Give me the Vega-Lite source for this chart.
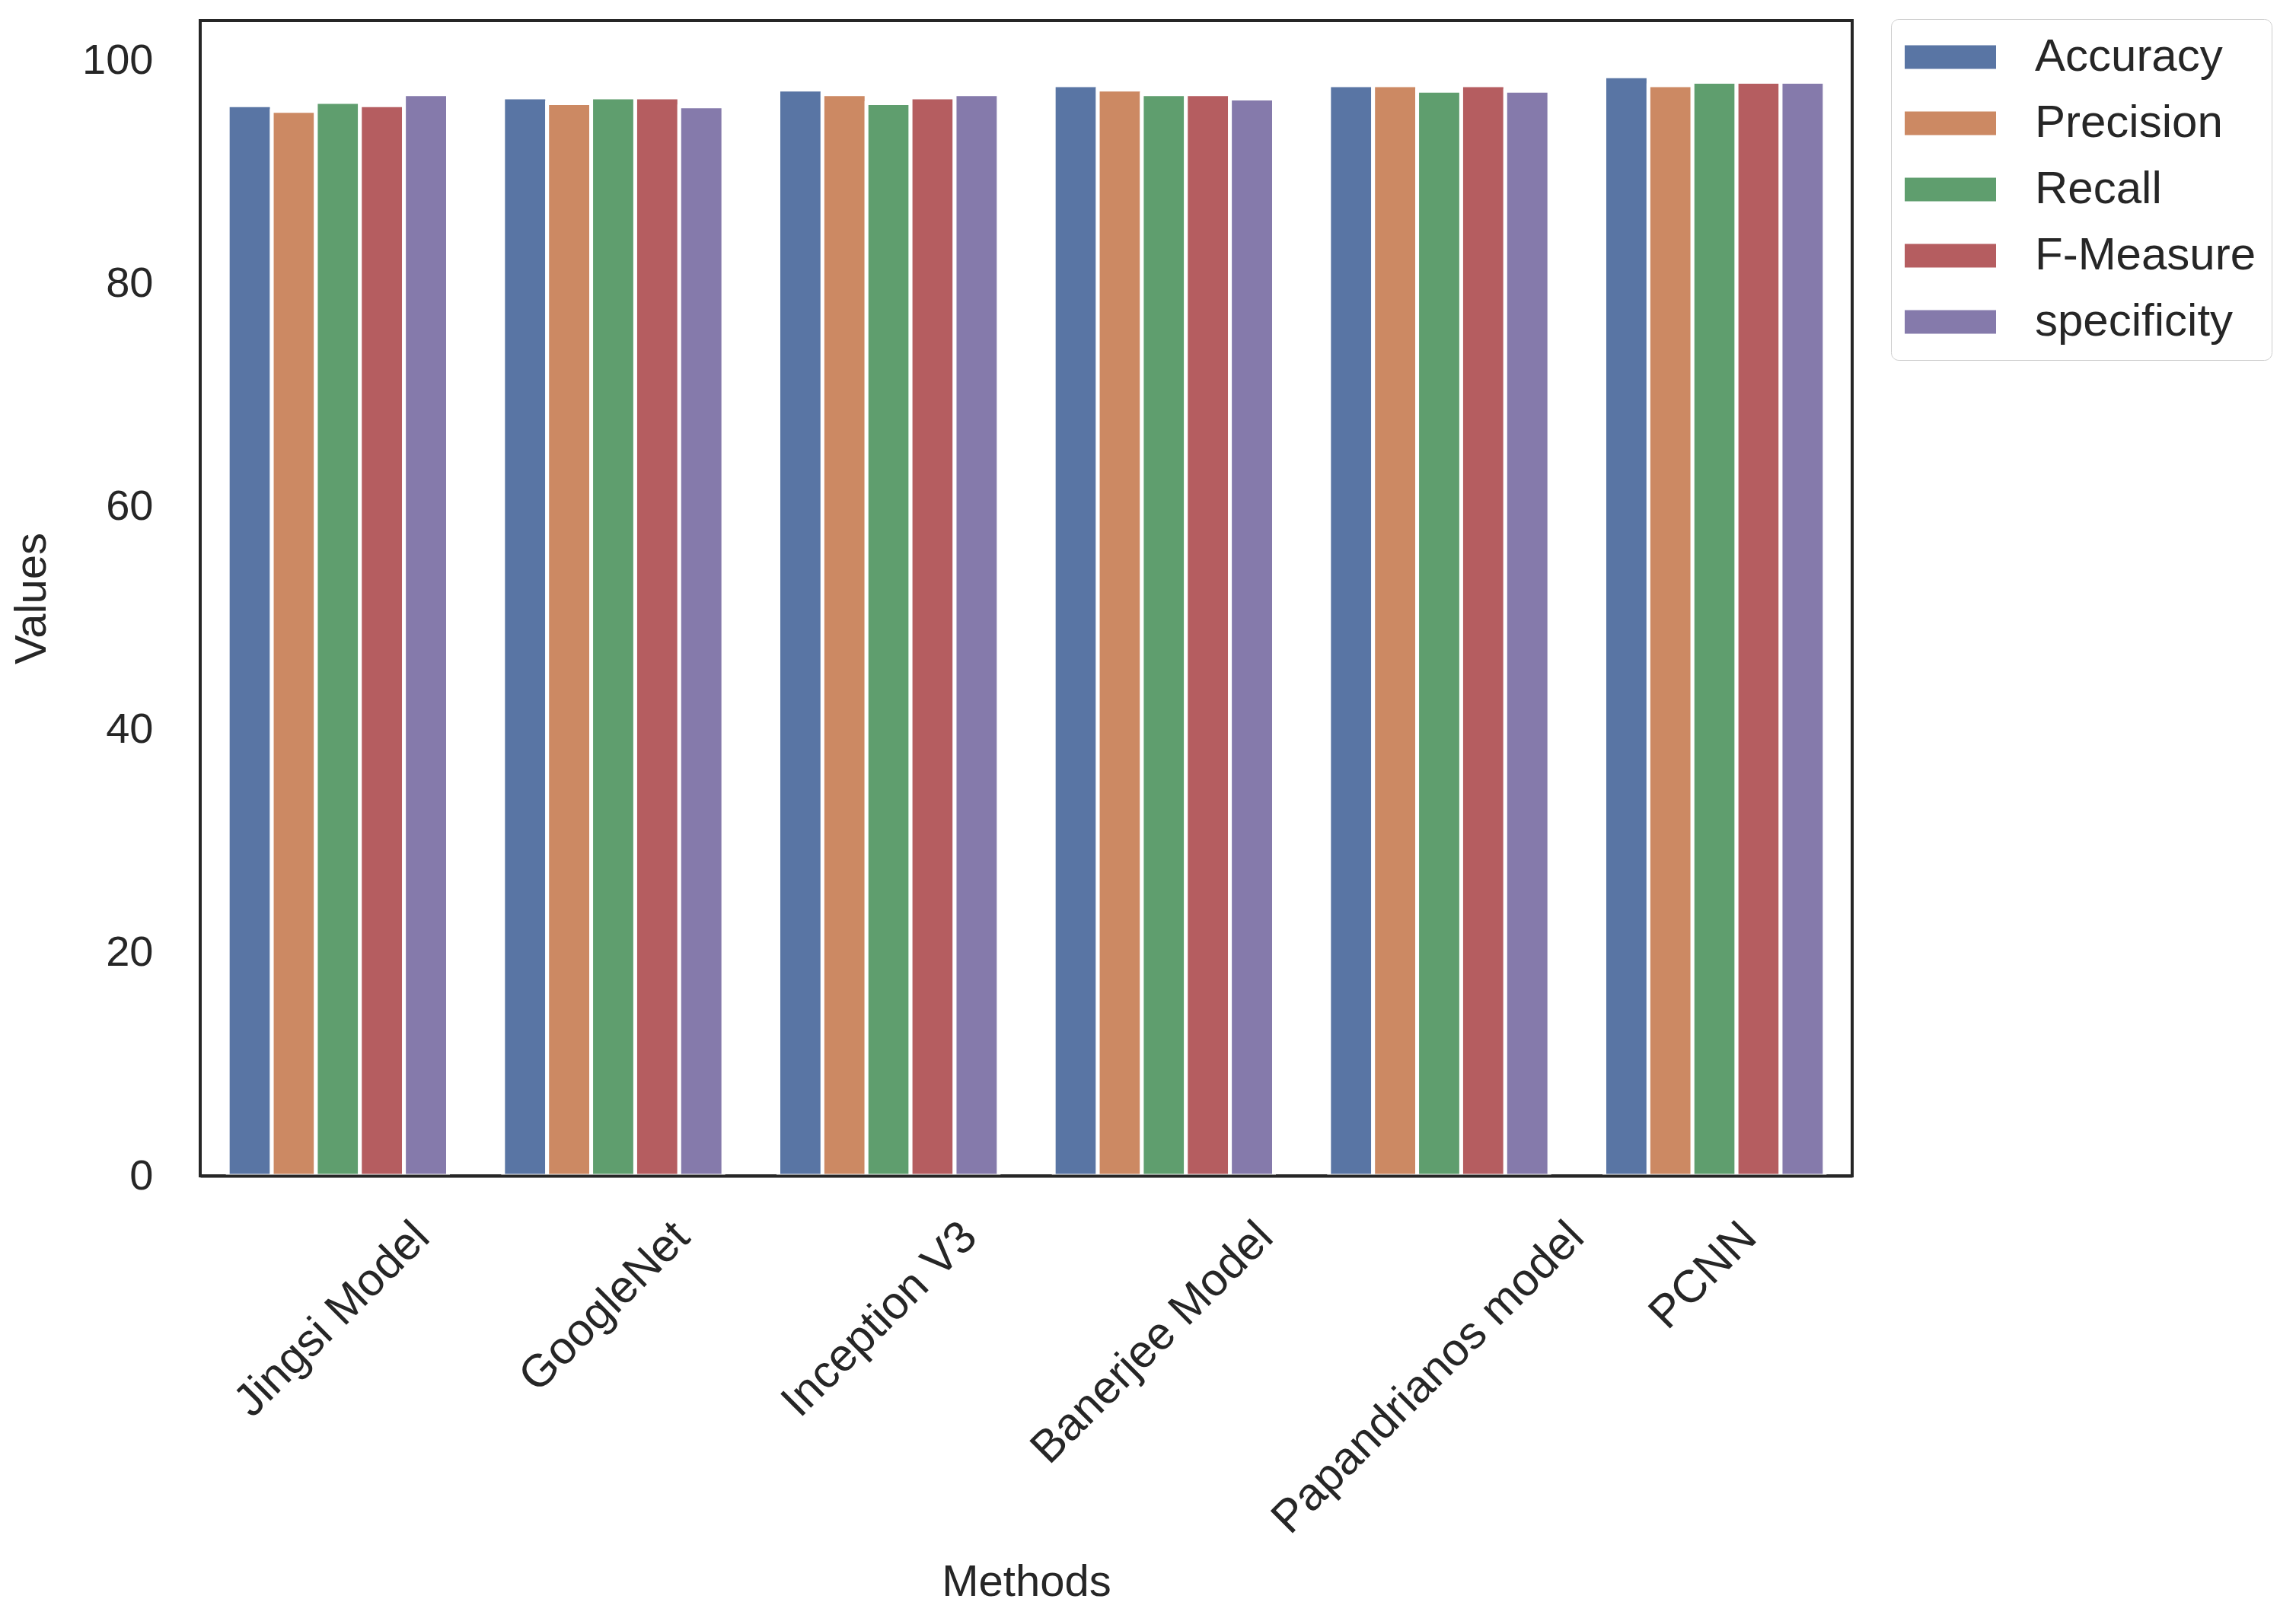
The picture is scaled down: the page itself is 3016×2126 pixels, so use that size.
{
  "$schema": "https://vega.github.io/schema/vega-lite/v6.json",
  "width": 2170,
  "height": 1518,
  "autosize": {"type": "none"},
  "padding": {"left": 263, "top": 27, "right": 583, "bottom": 581},
  "background": "white",
  "config": {
    "font": "Liberation Sans",
    "view": {"stroke": "#262626", "strokeWidth": 4},
    "axis": {"labelColor": "#262626", "titleColor": "#262626", "domain": false, "ticks": false, "grid": false, "labelFont": "Liberation Sans", "titleFont": "Liberation Sans", "titleFontWeight": "normal", "labelLimit": 0},
    "legend": {"labelColor": "#262626", "labelFont": "Liberation Sans", "labelLimit": 0}
  },
  "data": {
    "values": [
      {"method": "Jingsi Model", "metric": "Accuracy", "value": 96.0},
      {"method": "Jingsi Model", "metric": "Precision", "value": 95.5},
      {"method": "Jingsi Model", "metric": "Recall", "value": 96.3},
      {"method": "Jingsi Model", "metric": "F-Measure", "value": 96.0},
      {"method": "Jingsi Model", "metric": "specificity", "value": 97.0},
      {"method": "GoogleNet", "metric": "Accuracy", "value": 96.7},
      {"method": "GoogleNet", "metric": "Precision", "value": 96.2},
      {"method": "GoogleNet", "metric": "Recall", "value": 96.7},
      {"method": "GoogleNet", "metric": "F-Measure", "value": 96.7},
      {"method": "GoogleNet", "metric": "specificity", "value": 95.9},
      {"method": "Inception V3", "metric": "Accuracy", "value": 97.4},
      {"method": "Inception V3", "metric": "Precision", "value": 97.0},
      {"method": "Inception V3", "metric": "Recall", "value": 96.2},
      {"method": "Inception V3", "metric": "F-Measure", "value": 96.7},
      {"method": "Inception V3", "metric": "specificity", "value": 97.0},
      {"method": "Banerjee Model", "metric": "Accuracy", "value": 97.8},
      {"method": "Banerjee Model", "metric": "Precision", "value": 97.4},
      {"method": "Banerjee Model", "metric": "Recall", "value": 97.0},
      {"method": "Banerjee Model", "metric": "F-Measure", "value": 97.0},
      {"method": "Banerjee Model", "metric": "specificity", "value": 96.6},
      {"method": "Papandrianos model", "metric": "Accuracy", "value": 97.8},
      {"method": "Papandrianos model", "metric": "Precision", "value": 97.8},
      {"method": "Papandrianos model", "metric": "Recall", "value": 97.3},
      {"method": "Papandrianos model", "metric": "F-Measure", "value": 97.8},
      {"method": "Papandrianos model", "metric": "specificity", "value": 97.3},
      {"method": "PCNN", "metric": "Accuracy", "value": 98.6},
      {"method": "PCNN", "metric": "Precision", "value": 97.8},
      {"method": "PCNN", "metric": "Recall", "value": 98.1},
      {"method": "PCNN", "metric": "F-Measure", "value": 98.1},
      {"method": "PCNN", "metric": "specificity", "value": 98.1}
    ]
  },
  "mark": {"type": "bar", "stroke": "white", "strokeWidth": 5},
  "encoding": {
    "x": {
      "field": "method", "type": "nominal",
      "sort": ["Jingsi Model", "GoogleNet", "Inception V3", "Banerjee Model", "Papandrianos model", "PCNN"],
      "scale": {"paddingInner": 0.2, "paddingOuter": 0.1},
      "axis": {
        "title": "Methods", "titleFontSize": 58, "titleY": 551, "titleBaseline": "alphabetic",
        "domain": true, "domainColor": "#262626", "domainWidth": 4, "zindex": 1,
        "labelAngle": -45, "labelAlign": "right", "labelBaseline": "top",
        "labelFontSize": 60, "labelPadding": 50,
        "labelOffset": {
          "condition": [
            {"test": "datum.value == 'PCNN'", "value": 25},
            {"test": "datum.value == 'GoogleNet'", "value": 70},
            {"test": "datum.value == 'Inception V3'", "value": 86},
            {"test": "datum.value == 'Papandrianos model'", "value": 160},
            {"test": "datum.value == 'Banerjee Model'", "value": 113}
          ],
          "value": 90
        }
      }
    },
    "xOffset": {
      "field": "metric", "type": "nominal",
      "sort": ["Accuracy", "Precision", "Recall", "F-Measure", "specificity"],
      "scale": {"paddingInner": 0, "paddingOuter": 0}
    },
    "y": {
      "field": "value", "type": "quantitative",
      "scale": {"domain": [0, 103.6], "nice": false},
      "axis": {
        "title": "Values", "titleFontSize": 58, "titleX": -221, "titleBaseline": "middle",
        "values": [0, 20, 40, 60, 80, 100],
        "labelFontSize": 56, "labelPadding": 62
      }
    },
    "color": {
      "field": "metric", "type": "nominal",
      "sort": ["Accuracy", "Precision", "Recall", "F-Measure", "specificity"],
      "scale": {"range": ["#5975a4", "#cc8963", "#5f9e6e", "#b55d60", "#857aab"]},
      "legend": {
        "title": null, "orient": "none", "legendX": 2221, "legendY": -2,
        "symbolType": "M-3,-0.775H3V0.775H-3Z", "symbolSize": 1600, "symbolStrokeWidth": 0,
        "symbolOffset": 28,
        "labelFontSize": 60, "labelOffset": 81, "rowPadding": 27,
        "padding": 20, "strokeColor": "#cccccc", "cornerRadius": 10,
        "fillColor": "white",
        "encode": {"legend": {"update": {"strokeWidth": {"value": 3}}}}
      }
    }
  }
}
